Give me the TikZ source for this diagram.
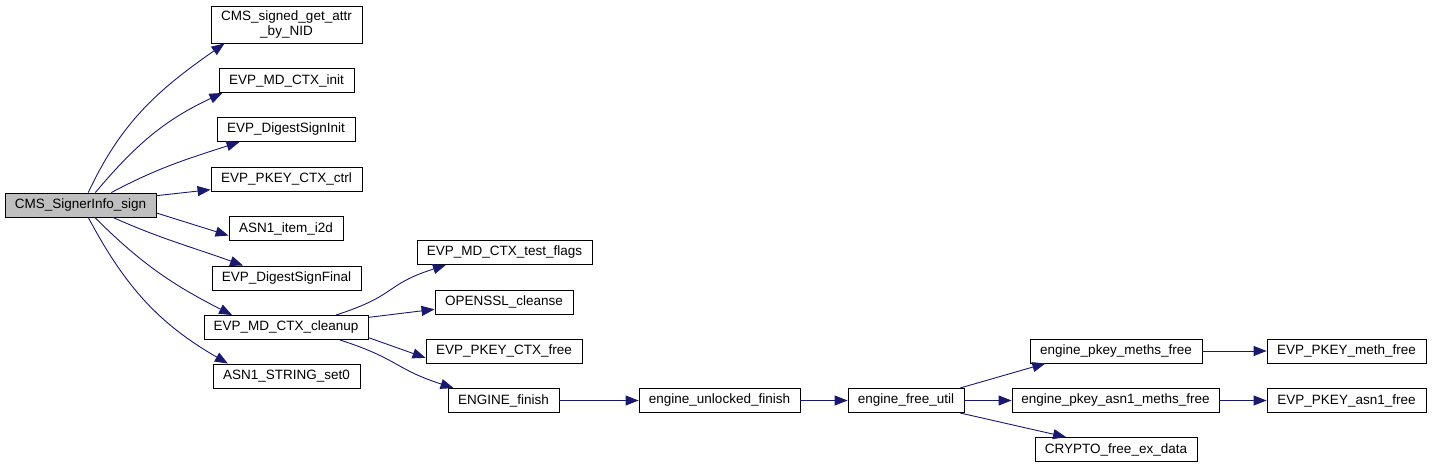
\documentclass[tikz,border=0pt]{standalone}
\usepackage{fontspec}
\setmainfont{Liberation Sans}
\usepackage{tikz}
\usetikzlibrary{arrows.meta, positioning}
\definecolor{edgeblue}{RGB}{25, 25, 112}
\definecolor{rootgrey}{RGB}{191, 191, 191}

\begin{document}
\begin{tikzpicture}[x=1pt, y=1pt,
    fn/.style={rectangle, draw=black, fill=white, line width=0.9pt, minimum height=24pt, inner xsep=0pt, inner ysep=2pt, align=center, font=\fontsize{13.5}{15}\selectfont},
    root/.style={fn, fill=rootgrey},
    call/.style={-{Triangle[length=13pt, width=10pt]}, draw=edgeblue, line width=0.9pt}
]
\useasboundingbox (0,0) rectangle (1432,-468);

% Caller
\node (SIGN) [root, minimum width=151pt] at (80.5,-205) {CMS\_SignerInfo\_sign};

% First column
\node (GETATTR)   [fn, minimum width=151pt, minimum height=37pt] at (286.5,-24.5) {CMS\_signed\_get\_attr\\\_by\_NID};
\node (MDINIT)    [fn, minimum width=135pt] at (286.5,-80.5)  {EVP\_MD\_CTX\_init};
\node (SIGNINIT)  [fn, minimum width=138pt] at (286,-129.5)   {EVP\_DigestSignInit};
\node (CTXCTRL)   [fn, minimum width=151pt] at (286.5,-179)   {EVP\_PKEY\_CTX\_ctrl};
\node (ITEMI2D)   [fn, minimum width=114pt] at (286,-228.5)   {ASN1\_item\_i2d};
\node (SIGNFINAL) [fn, minimum width=149pt] at (286.5,-278)   {EVP\_DigestSignFinal};
\node (CLEANUP)   [fn, minimum width=164pt] at (286,-327.5)   {EVP\_MD\_CTX\_cleanup};
\node (STRSET)    [fn, minimum width=147pt] at (286.5,-376)   {ASN1\_STRING\_set0};

% Called by cleanup
\node (TESTFLAGS) [fn, minimum width=175pt] at (504.5,-252.5) {EVP\_MD\_CTX\_test\_flags};
\node (CLEANSE)   [fn, minimum width=138pt] at (504,-302)     {OPENSSL\_cleanse};
\node (CTXFREE)   [fn, minimum width=156pt] at (504,-351)     {EVP\_PKEY\_CTX\_free};
\node (ENGFINISH) [fn, minimum width=111pt] at (503.5,-400.5) {ENGINE\_finish};

% Engine chain
\node (UNLOCKED)  [fn, minimum width=161pt] at (719.5,-400.5) {engine\_unlocked\_finish};
\node (FREEUTIL)  [fn, minimum width=116pt] at (906,-400.5)   {engine\_free\_util};
\node (METHSFREE) [fn, minimum width=172pt] at (1116,-351)    {engine\_pkey\_meths\_free};
\node (ASN1METHS) [fn, minimum width=207pt] at (1115.5,-400.5) {engine\_pkey\_asn1\_meths\_free};
\node (EXDATA)    [fn, minimum width=162pt] at (1116,-449.5)  {CRYPTO\_free\_ex\_data};
\node (METHFREE)  [fn, minimum width=159pt] at (1346.5,-351)  {EVP\_PKEY\_meth\_free};
\node (ASN1FREE)  [fn, minimum width=159pt] at (1346.5,-400.5) {EVP\_PKEY\_asn1\_free};

% Calls from CMS_SignerInfo_sign
\draw [call] (SIGN.58)  to[out=65, in=215] (GETATTR.197);
\draw [call] (SIGN.40)  to[out=50, in=205] (MDINIT.191);
\draw [call] (SIGN.22)  to[out=28, in=198] (SIGNINIT.195);
\draw [call] (SIGN.7.5) -- (CTXCTRL.188);
\draw [call] (SIGN.-6)  -- (ITEMI2D.187.5);
\draw [call] (SIGN.-21) to[out=-24, in=160] (SIGNFINAL.164.6);
\draw [call] (SIGN.-41) to[out=-45, in=153] (CLEANUP.167);
\draw [call] (SIGN.-58) to[out=-62, in=150] (STRSET.168.4);

% Calls from EVP_MD_CTX_cleanup
\draw [call] (CLEANUP.14)  to[out=18, in=198, looseness=1.4] (TESTFLAGS.192);
\draw [call] (CLEANUP.7.3) -- (CLEANSE.186.6);
\draw [call] (CLEANUP.-7.8) -- (CTXFREE.185.9);
\draw [call] (CLEANUP.-13.7) to[out=-18, in=162, looseness=1.3] (ENGFINISH.166);

% Engine chain
\draw [call] (ENGFINISH) -- (UNLOCKED);
\draw [call] (UNLOCKED) -- (FREEUTIL);
\draw [call] (FREEUTIL.13)  -- (METHSFREE.190.8);
\draw [call] (FREEUTIL) -- (ASN1METHS);
\draw [call] (FREEUTIL.-13) -- (EXDATA.166.7);
\draw [call] (METHSFREE) -- (METHFREE);
\draw [call] (ASN1METHS) -- (ASN1FREE);

\end{tikzpicture}
\end{document}
